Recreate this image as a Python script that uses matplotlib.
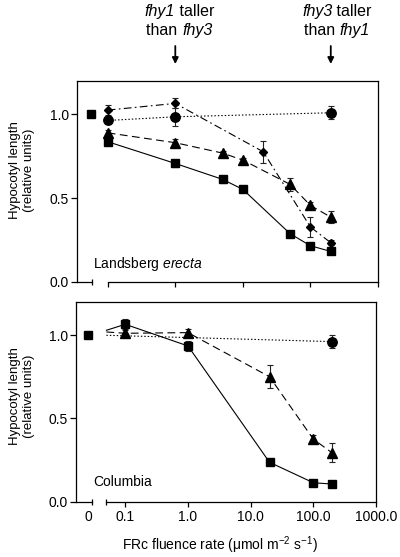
import matplotlib
matplotlib.use('Agg')
import matplotlib.pyplot as plt
import matplotlib.transforms as mtransforms
from matplotlib.lines import Line2D
from matplotlib.offsetbox import TextArea, HPacker, VPacker, AnnotationBbox

plt.rcParams['font.family'] = ['Liberation Sans', 'DejaVu Sans']
plt.rcParams['mathtext.fontset'] = 'custom'
plt.rcParams['mathtext.rm'] = 'Liberation Sans'
plt.rcParams['mathtext.it'] = 'Liberation Sans:italic'
plt.rcParams['mathtext.bf'] = 'Liberation Sans:bold'

# ---------------- data ----------------
xtick_vals = [0.1, 1, 10, 100, 1000]
xtick_labels = ['0.1', '1.0', '10.0', '100.0', '1000.0']
ytick_vals = [0.0, 0.5, 1.0]
ytick_labels = ['0.0', '0.5', '1.0']

# Landsberg erecta (top)
top_dark = 1.0
top_sq_x = [0.1, 1, 5, 10, 50, 100, 200]
top_sq = [0.837, 0.707, 0.612, 0.552, 0.287, 0.215, 0.181]
top_sq_err = [0.02, 0.02, 0.02, 0.015, 0.015, 0.015, 0.015]
top_tri_x = [0.1, 1, 5, 10, 50, 100, 200]
top_tri = [0.890, 0.831, 0.769, 0.727, 0.582, 0.456, 0.386]
top_tri_err = [0.02, 0.02, 0.015, 0.015, 0.04, 0.02, 0.034]
top_dia_x = [0.1, 1, 20, 100, 200]
top_dia = [1.026, 1.066, 0.777, 0.327, 0.233]
top_dia_err = [0.03, 0.03, 0.065, 0.058, 0.015]
top_cir_x = [0.1, 1, 200]
top_cir = [0.964, 0.986, 1.010]
top_cir_err = [0.02, 0.054, 0.04]

# Columbia (bottom); first point of each series is the unmarked line start
bot_dark = 1.0
bot_sq_x = [0.05, 0.1, 1, 20, 100, 200]
bot_sq = [1.03, 1.066, 0.936, 0.237, 0.114, 0.106]
bot_sq_err = [0, 0.03, 0.03, 0.015, 0.015, 0.015]
bot_tri_x = [0.05, 0.1, 1, 20, 100, 200]
bot_tri = [1.02, 1.012, 1.016, 0.751, 0.376, 0.293]
bot_tri_err = [0, 0.02, 0.02, 0.07, 0.026, 0.057]
bot_cir_x = [0.05, 200]
bot_cir = [1.0, 0.962]
bot_cir_err = [0, 0.037]

# ---------------- layout ----------------
W, H = 400, 557
fig = plt.figure(figsize=(W / 100, H / 100), dpi=100)

ax1 = fig.add_axes([77 / W, 1 - 281.7 / H, 301 / W, 200.7 / H])
ax2 = fig.add_axes([76 / W, 1 - 501.7 / H, 300 / W, 199.7 / H])

panels = [
    dict(ax=ax1, xlim=(0.0351, 1000), zero_tick=0.0591, seg_start=0.1, dark_x=0.056),
    dict(ax=ax2, xlim=(0.01637, 1000), zero_tick=0.0292, seg_start=0.0493, dark_x=0.0258),
]

LS_SOLID = '-'
LS_DASH = (0, (7, 4))
LS_DASHDOT = (0, (7, 3, 1.5, 3))
LS_DOT = (0, (1.3, 1.8))

for p in panels:
    ax = p['ax']
    ax.set_xscale('log')
    ax.set_xlim(*p['xlim'])
    ax.set_ylim(0, 1.2)
    ax.spines['bottom'].set_visible(False)
    for s in ['left', 'top', 'right']:
        ax.spines[s].set_linewidth(0.9)
    tr = ax.get_xaxis_transform()
    ax.add_line(Line2D([p['xlim'][0], p['zero_tick']], [0, 0], transform=tr,
                       color='k', lw=0.9, clip_on=False))
    ax.add_line(Line2D([p['seg_start'], 1000], [0, 0], transform=tr,
                       color='k', lw=0.9, clip_on=False))
    ax.set_xticks(xtick_vals)
    ax.set_xticks([p['zero_tick'], p['seg_start']], minor=True)
    ax.set_xticklabels([], minor=True)
    ax.tick_params(axis='x', which='major', direction='out', length=3.5, width=0.9,
                   pad=2.5, labelsize=10)
    ax.tick_params(axis='x', which='minor', direction='inout', length=5, width=0.9)
    ax.set_yticks(ytick_vals)
    ax.set_yticklabels(ytick_labels)
    ax.tick_params(axis='y', direction='out', length=4, width=0.9, pad=2, labelsize=10)

ax1.set_xticklabels([])
ax2.set_xticklabels(xtick_labels)
ax2.annotate('0', xy=(0.0258, 0), xycoords=ax2.get_xaxis_transform(),
             xytext=(0, -6), textcoords='offset points', ha='center', va='top',
             fontsize=10)

kw_err = dict(fmt='none', ecolor='#222222', elinewidth=0.8, capsize=2.5, capthick=0.8,
              zorder=2)


def series(ax, x, y, err, marker, ms, ls, skip_first=False):
    start = 1 if skip_first else 0
    ax.errorbar(x[start:], y[start:], yerr=err[start:], **kw_err)
    ax.plot(x, y, color='k', lw=0.8, linestyle=ls, marker=marker, ms=ms,
            markevery=list(range(start, len(x))), zorder=3, clip_on=False)


# top panel
ax1.plot([panels[0]['dark_x']], [top_dark], 's', color='k', ms=6, zorder=3, clip_on=False)
series(ax1, top_sq_x, top_sq, top_sq_err, 's', 6, LS_SOLID)
series(ax1, top_tri_x, top_tri, top_tri_err, '^', 6.5, LS_DASH)
series(ax1, top_dia_x, top_dia, top_dia_err, 'D', 4.5, LS_DASHDOT)
series(ax1, top_cir_x, top_cir, top_cir_err, 'o', 6.8, LS_DOT)

# bottom panel
ax2.plot([panels[1]['dark_x']], [bot_dark], 's', color='k', ms=6, zorder=3, clip_on=False)
series(ax2, bot_sq_x, bot_sq, bot_sq_err, 's', 6, LS_SOLID, skip_first=True)
series(ax2, bot_tri_x, bot_tri, bot_tri_err, '^', 6.5, LS_DASH, skip_first=True)
series(ax2, bot_cir_x, bot_cir, bot_cir_err, 'o', 6.8, LS_DOT, skip_first=True)

ax1.text(0.053, 0.088, r'Landsberg $\mathit{erecta}$', transform=ax1.transAxes,
         ha='left', va='center', fontsize=10)
ax2.text(0.057, 0.10, 'Columbia', transform=ax2.transAxes,
         ha='left', va='center', fontsize=10)

for yc in [170, 396]:
    fig.text(22 / W, 1 - yc / H, 'Hypocotyl length\n(relative units)', rotation=90,
             ha='center', va='center', multialignment='center', fontsize=9.5,
             linespacing=1.25)

fig.text(220 / W, 1 - 545 / H, r'FRc fluence rate ($\mathrm{\mu}$mol m$^{-2}$ s$^{-1}$)',
         ha='center', va='center', fontsize=10)

# arrows and annotations
btr = mtransforms.blended_transform_factory(ax1.transData, fig.transFigure)
FS = 11.5


def mixed_line(parts):
    boxes = [TextArea(t, textprops=dict(fontsize=FS, style=('italic' if it else 'normal')))
             for t, it in parts]
    return HPacker(children=boxes, align='baseline', pad=0, sep=0)


for xval, g1, g2, dx in [(1, 'fhy1', 'fhy3', 4), (200, 'fhy3', 'fhy1', 6)]:
    ax1.annotate('', xy=(xval, 1 - 64 / H), xycoords=btr,
                 xytext=(xval, 1 - 46 / H), textcoords=btr,
                 arrowprops=dict(arrowstyle='-|>', color='k', lw=1.3, mutation_scale=9,
                                 shrinkA=0, shrinkB=0))
    block = VPacker(children=[mixed_line([(g1, True), (' taller', False)]),
                              mixed_line([('than ', False), (g2, True)])],
                    align='center', pad=0, sep=3)
    ab = AnnotationBbox(block, (xval, 1 - 21 / H), xycoords=btr,
                        xybox=(dx, 0), boxcoords='offset pixels',
                        frameon=False, box_alignment=(0.5, 0.5), pad=0,
                        annotation_clip=False)
    ax1.add_artist(ab)

fig.savefig('out.png', dpi=100)
